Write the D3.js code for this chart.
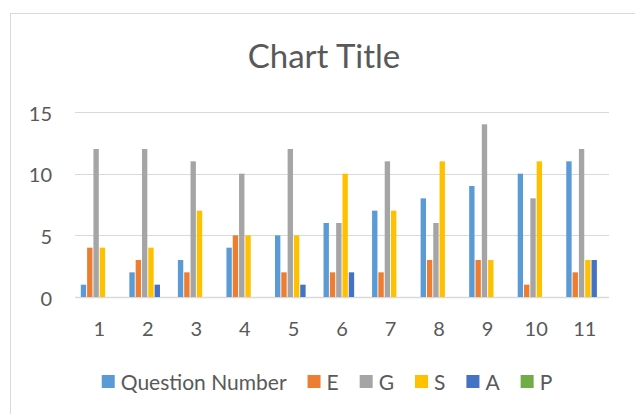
<!DOCTYPE html>
<html>
<head>
<meta charset="utf-8">
<script src="https://cdn.jsdelivr.net/npm/d3@7"></script>
<style>
    body { margin: 0; background: #fff; }
    text { font-family: Lato, "Open Sans", sans-serif; fill: #595959; }
</style>
</head>
<body>
<div id="chart"></div>
<script>
// categories and series
const categories = ["1", "2", "3", "4", "5", "6", "7", "8", "9", "10", "11"];
const seriesNames = ["Question Number", "E", "G", "S", "A", "P"];
const questionNumber = [1, 2, 3, 4, 5, 6, 7, 8, 9, 10, 11];
const eValues = [4, 3, 2, 5, 2, 2, 2, 3, 3, 1, 2];
const gValues = [12, 12, 11, 10, 12, 6, 11, 6, 14, 8, 12];
const sValues = [4, 4, 7, 5, 5, 10, 7, 11, 3, 11, 3];
const aValues = [0, 1, 0, 0, 1, 2, 0, 0, 0, 0, 3];
const pValues = [0, 0, 0, 0, 0, 0, 0, 0, 0, 0, 0];
const yTicks = [0, 5, 10, 15];
const colors = ["#5B9BD5", "#ED7D31", "#A5A5A5", "#FFC000", "#4472C4", "#70AD47"];

const allSeries = [questionNumber, eValues, gValues, sValues, aValues, pValues];
const data = categories.map((c, i) => ({cat: c, vals: allSeries.map(s => s[i])}));

const W = 635, H = 414;
const margin = {top: 112, right: 26, bottom: 117, left: 75};
const width = W - margin.left - margin.right;
const height = H - margin.top - margin.bottom;

const svg = d3.select("#chart").append("svg")
    .attr("width", W)
    .attr("height", H);

// chart area border
svg.append("rect")
    .attr("x", 10.5).attr("y", 13.5)
    .attr("width", 640).attr("height", 420)
    .attr("fill", "none")
    .attr("stroke", "#D9D9D9");

svg.append("text")
    .attr("x", 324).attr("y", 68)
    .attr("text-anchor", "middle")
    .style("font-size", "33px")
    .text("Chart Title");

const g = svg.append("g")
    .attr("transform", `translate(${margin.left}, ${margin.top})`);

const x0 = d3.scaleBand()
    .domain(categories)
    .range([0, width])
    .paddingInner(0.2)
    .paddingOuter(0.1);

const x1 = d3.scaleBand()
    .domain(d3.range(seriesNames.length))
    .range([0, x0.bandwidth()])
    .padding(0.15);

const y = d3.scaleLinear()
    .domain([0, 15])
    .range([height, 0]);

// gridlines
g.selectAll(".grid")
    .data(yTicks)
    .enter()
    .append("line")
    .attr("class", "grid")
    .attr("x1", 0).attr("x2", width)
    .attr("y1", d => Math.round(y(d)) + 0.5)
    .attr("y2", d => Math.round(y(d)) + 0.5)
    .attr("stroke", "#D9D9D9")
    .attr("stroke-width", d => d === 0 ? 1.5 : 1.2);

// y axis labels
const yAxis = d3.axisLeft(y).tickValues(yTicks).tickSize(0).tickPadding(23);
g.append("g")
    .attr("class", "y-axis")
    .call(yAxis)
    .call(a => a.select(".domain").remove())
    .selectAll("text")
    .style("font-size", "20px")
    .attr("dy", "0.4em")
    .attr("fill", "#595959");

// x axis labels
const xAxis = d3.axisBottom(x0).tickSize(0).tickPadding(25);
g.append("g")
    .attr("class", "x-axis")
    .attr("transform", `translate(0, ${height})`)
    .call(xAxis)
    .call(a => a.select(".domain").remove())
    .selectAll("text")
    .style("font-size", "20px")
    .attr("fill", "#595959");

// bars
const groups = g.selectAll(".cat")
    .data(data)
    .enter()
    .append("g")
    .attr("class", "cat")
    .attr("transform", d => `translate(${x0(d.cat)}, 0)`);

groups.selectAll("rect")
    .data(d => d.vals.map((v, i) => ({i: i, v: v})))
    .enter()
    .append("rect")
    .attr("x", d => x1(d.i))
    .attr("width", x1.bandwidth())
    .attr("y", d => y(d.v))
    .attr("height", d => height - y(d.v))
    .attr("fill", d => colors[d.i]);

// legend
const legend = svg.append("g");
let lx = 0;
seriesNames.forEach((name, i) => {
    const item = legend.append("g").attr("transform", `translate(${lx}, 0)`);
    item.append("rect")
        .attr("x", 0).attr("y", -7)
        .attr("width", 13).attr("height", 13)
        .attr("fill", colors[i]);
    const t = item.append("text")
        .attr("x", 19).attr("y", 7.5)
        .style("font-size", "21px")
        .text(name);
    lx += 19 + t.node().getComputedTextLength() + 21;
});
lx -= 21;
legend.attr("transform", `translate(${327 - lx / 2}, 382)`);
</script>
</body>
</html>
